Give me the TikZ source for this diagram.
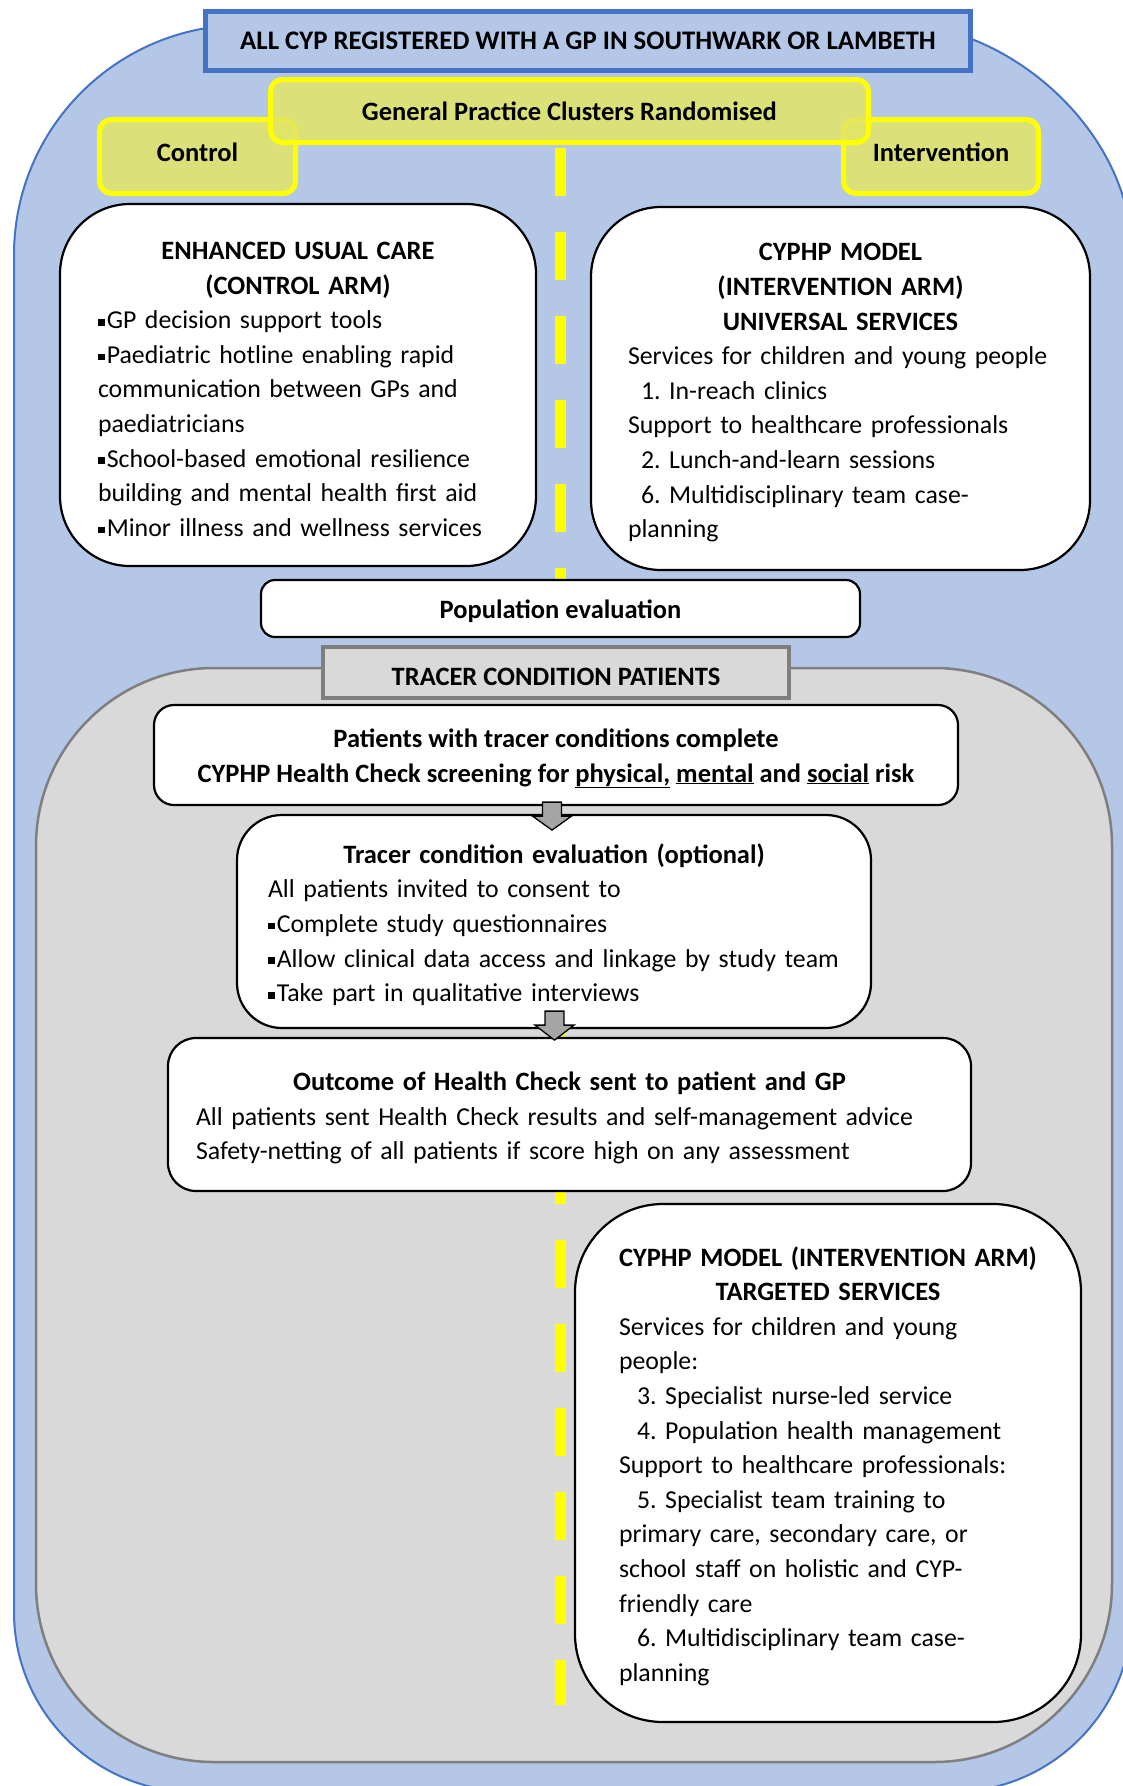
\documentclass[tikz,border=0pt]{standalone}
\usepackage{fontspec}
\setmainfont{Carlito}
\usetikzlibrary{calc}
\definecolor{bluefill}{HTML}{B4C7E7}
\definecolor{blueline}{HTML}{4472C4}
\definecolor{ylwfill}{HTML}{E2E665}
\definecolor{ylwline}{HTML}{FFFF00}
\definecolor{grayfill}{HTML}{D9D9D9}
\definecolor{grayline}{HTML}{7F7F7F}
\definecolor{arrowfill}{HTML}{A5A5A5}
\frenchspacing
\newcommand{\bfsz}{\fontsize{26.5}{34.6}\selectfont\bfseries}
\newcommand{\bul}{\raisebox{0.12em}{\rule{0.26em}{0.26em}}\hspace{0.08em}}
\newcommand{\hd}[1]{\makebox[\linewidth]{\rule{0pt}{26pt}\bfsz #1}}
\newcommand{\li}[1]{\mbox{#1}}
\newcommand{\ulx}[1]{\rlap{\smash{\underline{\phantom{#1}}}}#1}
\tikzset{
  txt/.style={font=\fontsize{25.8}{34.6}\selectfont, text=black},
  btxt/.style={font=\bfsz, text=black},
  whitebox/.style={txt, draw=black, line width=2.2pt, fill=white, inner xsep=0pt, inner ysep=2pt},
  leftbox/.style={whitebox, align=left},
  ybox/.style={btxt, draw=ylwline, line width=5pt, fill=ylwfill, fill opacity=0.85, text opacity=1, rounded corners=12pt},
  barrow/.style={draw=black, line width=1.3pt, fill=arrowfill, line join=miter},
  ydash/.style={draw=ylwline, line width=11pt, dash pattern=on 48pt off 36pt}
}
\begin{document}
\begin{tikzpicture}[x=1pt, y=-1pt]
\useasboundingbox (0,0) rectangle (1122,1786);
% outer blue region
\draw[fill=bluefill, draw=blueline, line width=2pt]
  (14,255) .. controls (14,128) and (117,25) .. (244,25)
  -- (902,25) .. controls (1005,25) and (1132,128) .. (1132,255)
  -- (1132,1612) .. controls (1132,1711.4) and (1051.4,1792) .. (952,1792)
  -- (194,1792) .. controls (94.6,1792) and (14,1711.4) .. (14,1612) -- cycle;
% grey tracer region
\draw[fill=grayfill, draw=grayline, line width=2.5pt, rounded corners=178pt]
  (36,668) rectangle (1112,1762);
% top box
\node[font=\fontsize{26.8}{34.6}\selectfont\bfseries, text=black, draw=blueline, fill=bluefill, line width=5.5pt,
  minimum width=765pt, minimum height=59pt, inner sep=0pt] (all) at (588,41)
  {ALL CYP REGISTERED WITH A GP IN SOUTHWARK OR LAMBETH};
% yellow boxes
\node[ybox, minimum width=196pt, minimum height=74pt] (ctrl) at (197.5,156.5) {\raisebox{-4.5pt}[0pt][0pt]{Control}};
\node[ybox, minimum width=195pt, minimum height=74pt] (intv) at (941,156.5) {\raisebox{-4.5pt}[0pt][0pt]{Intervention}};
\node[ybox, minimum width=598pt, minimum height=63pt] (gp) at (569.5,111) {General Practice Clusters Randomised};
% yellow dashed divider
\coordinate (dend) at (560,1705);
\draw[ydash] ($(gp.south)+(-9.5,2.5)$) -- (dend);
% arms
\node[leftbox, rounded corners=70pt, minimum width=476pt, minimum height=362pt, text width=400pt] (ctrlarm) at (298,385) {%
\hd{ENHANCED USUAL CARE}\\
\hd{(CONTROL ARM)}\\
\li{\bul GP decision support tools}\\
\li{\bul Paediatric hotline enabling rapid}\\
\li{communication between GPs and}\\
\li{paediatricians}\\
\li{\bul School-based emotional resilience}\\
\li{building and mental health first aid}\\
\li{\bul Minor illness and wellness services}};
\node[leftbox, rounded corners=70pt, minimum width=499pt, minimum height=363pt, text width=425pt] (intarm) at (840.5,388.5) {%
\hd{CYPHP MODEL}\\
\hd{(INTERVENTION ARM)}\\
\hd{UNIVERSAL SERVICES}\\
\li{Services for children and young people}\\
\li{\hspace*{13pt}1. In-reach clinics}\\
\li{Support to healthcare professionals}\\
\li{\hspace*{13pt}2. Lunch-and-learn sessions}\\
\li{\hspace*{13pt}6. Multidisciplinary team case-}\\
\li{planning}};
% population evaluation
\node[whitebox, btxt, rounded corners=14pt, minimum width=599pt, minimum height=57pt] (pop) at (560.5,608.5) {\raisebox{-10pt}[0pt][0pt]{Population evaluation}};
% tracer condition patients
\node[btxt, draw=grayline, fill=grayfill, line width=4.5pt,
  minimum width=466pt, minimum height=51pt, inner sep=0pt] (tracer) at (556,672.5) {\raisebox{-13pt}[0pt][0pt]{TRACER CONDITION PATIENTS}};
% patients box
\node[whitebox, btxt, rounded corners=20pt, minimum width=804pt, minimum height=100pt, align=center] (pat) at (556,755) {%
\rule{0pt}{24pt}Patients with tracer conditions complete\\
CYPHP Health Check screening for \ulx{physical,} \ulx{mental} and \ulx{social} risk};
% tracer evaluation
\node[leftbox, rounded corners=45pt, minimum width=634pt, minimum height=213pt, text width=572pt] (eval) at (554,921.5) {%
\hd{Tracer condition evaluation (optional)}\\
\li{All patients invited to consent to}\\
\li{\bul Complete study questionnaires}\\
\li{\bul Allow clinical data access and linkage by study team}\\
\li{\bul Take part in qualitative interviews}};
% outcome
\node[leftbox, rounded corners=28pt, minimum width=803pt, minimum height=153pt, text width=747pt] (outc) at (569.5,1114.5) {%
\hd{Outcome of Health Check sent to patient and GP}\\
\li{All patients sent Health Check results and self-management advice}\\
\li{Safety-netting of all patients if score high on any assessment}};
% targeted services
\node[leftbox, rounded corners=88pt, minimum width=506pt, minimum height=518pt, text width=418pt] (targ) at (828,1463) {%
\hd{CYPHP MODEL (INTERVENTION ARM)}\\
\hd{TARGETED SERVICES}\\
\li{Services for children and young}\\
\li{people:}\\
\li{\hspace*{18pt}3. Specialist nurse-led service}\\
\li{\hspace*{18pt}4. Population health management}\\
\li{Support to healthcare professionals:}\\
\li{\hspace*{18pt}5. Specialist team training to}\\
\li{primary care, secondary care, or}\\
\li{school staff on holistic and CYP-}\\
\li{friendly care}\\
\li{\hspace*{18pt}6. Multidisciplinary team case-}\\
\li{planning}};
% block arrows
\coordinate (a1) at ($(pat.south)+(-4,-4)$);
\draw[barrow] (a1) ++(-9.5,0) -- ++(19,0) -- ++(0,14) -- ++(10,0) -- ++(-19.5,14) -- ++(-19.5,-14) -- ++(10,0) -- cycle;
\coordinate (a2) at ($(eval.south)+(0.5,-18)$);
\draw[barrow] (a2) ++(-9.5,0) -- ++(19,0) -- ++(0,14) -- ++(10,0) -- ++(-19.5,15) -- ++(-19.5,-15) -- ++(10,0) -- cycle;
\end{tikzpicture}
\end{document}
